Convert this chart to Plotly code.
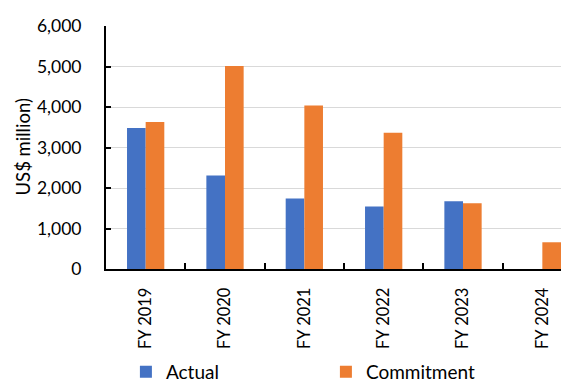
import plotly.graph_objects as go

years = ["FY 2019", "FY 2020", "FY 2021", "FY 2022", "FY 2023", "FY 2024"]
actual = [3480, 2310, 1740, 1545, 1675, None]
commitment = [3630, 5015, 4040, 3365, 1625, 660]
y_ticks = [0, 1000, 2000, 3000, 4000, 5000, 6000]

blue = "#4472C4"
orange = "#ED7D31"
font_name = "Lato"

fig = go.Figure()
fig.add_trace(go.Bar(x=years, y=actual, name="Actual", marker=dict(color=blue, line=dict(width=0))))
fig.add_trace(go.Bar(x=years, y=commitment, name="Commitment", marker=dict(color=orange, line=dict(width=0))))

# page body has an 8px margin, so the figure is drawn 8px smaller
fig.update_layout(
    width=561, height=376,
    margin=dict(l=98, r=0, t=18, b=115, autoexpand=False),
    paper_bgcolor="white", plot_bgcolor="white",
    font=dict(family=font_name, size=19, color="black"),
    barmode="group", bargap=0.53, bargroupgap=0,
    showlegend=True,
    legend=dict(orientation="h", x=0.043, xanchor="left", y=-0.423, yanchor="middle",
                entrywidth=155, font=dict(size=19), bgcolor="rgba(0,0,0,0)"),
    annotations=[dict(text="US$ million)", xref="paper", yref="paper", x=-0.1814, y=0.5,
                      textangle=-90, showarrow=False, font=dict(size=18.5),
                      xanchor="center", yanchor="middle")],
)
fig.update_xaxes(range=[-0.5, 5.336], showline=True, linecolor="black", linewidth=2,
                 ticks="inside", ticklen=6, tickcolor="black", tickwidth=1.5,
                 tickson="boundaries", tickangle=-90, showgrid=False,
                 tickfont=dict(size=16.5), ticklabelstandoff=10, fixedrange=True)
fig.update_yaxes(range=[0, 6000], tickvals=y_ticks, tickformat=",d",
                 showline=True, linecolor="black", linewidth=2,
                 ticks="inside", ticklen=5, tickcolor="black", tickwidth=1.5,
                 showgrid=True, gridcolor="#d9d9d9", gridwidth=1.3,
                 tickfont=dict(size=17.5), zeroline=False, ticklabelstandoff=19)

fig.write_html("out.html")
